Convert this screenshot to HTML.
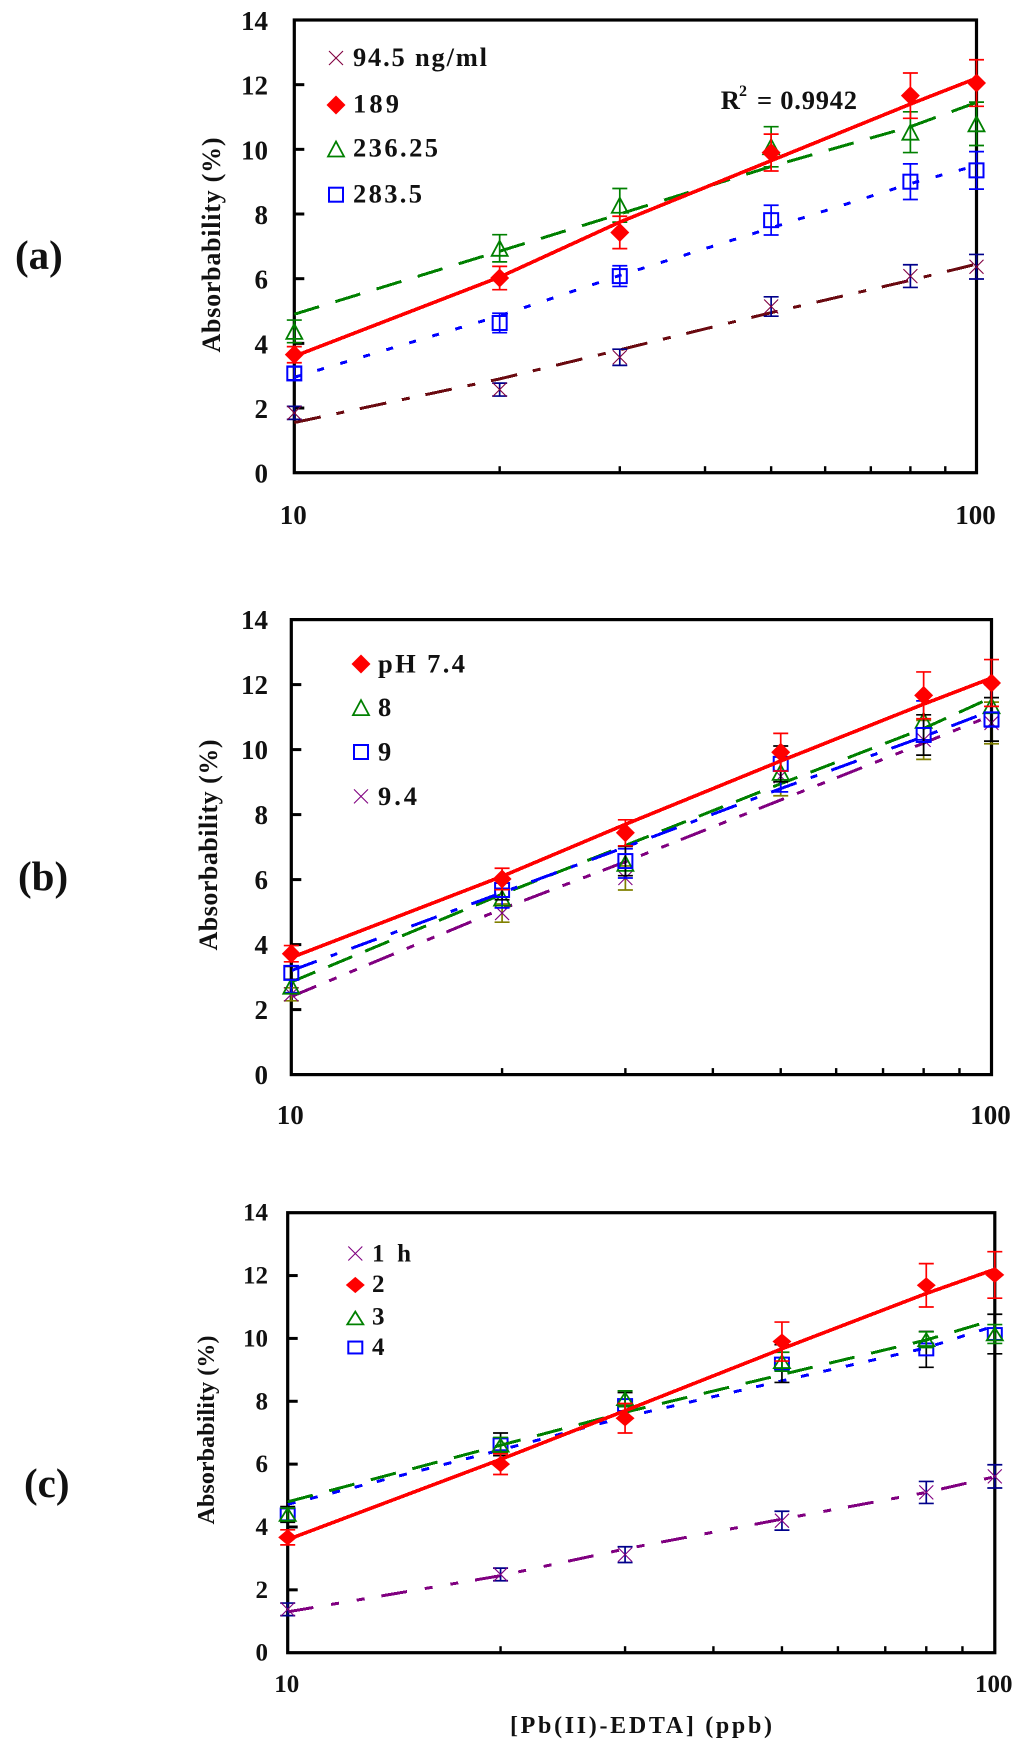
<!DOCTYPE html>
<html lang="en">
<head>
<meta charset="utf-8">
<title>Absorbability vs Pb(II)-EDTA concentration</title>
<style>
  html, body { margin: 0; padding: 0; background: #fff; }
  body { width: 1024px; height: 1751px; overflow: hidden; }
  svg { display: block; filter: blur(0.35px); }
  text { font-family: "Liberation Serif", serif; font-weight: bold; fill: #111; }
</style>
</head>
<body>
<svg id="figure" xmlns="http://www.w3.org/2000/svg" width="1024" height="1751" viewBox="0 0 1024 1751"></svg>
<script>
// ---- shared axis data ----
const categories = [10, 20, 30, 50, 80, 100];
const xTickValues = [20, 30, 40, 50, 60, 70, 80, 90];
const xTickLabels = [10, 100];
const yTickLabels = [0, 2, 4, 6, 8, 10, 12, 14];

// ---- panel (a) ----
const a945Values = [1.85, 2.57, 3.57, 5.14, 6.08, 6.37];
const a945Errors = [0.2, 0.2, 0.25, 0.3, 0.35, 0.38];
const a945Trend = [1.55, 2.9, 3.8, 4.95, 5.95, 6.45];
const a189Values = [3.65, 6.02, 7.43, 9.9, 11.66, 12.05];
const a189Errors = [0.25, 0.36, 0.5, 0.57, 0.7, 0.72];
const a189Trend = [3.6, 6.05, 7.75, 9.65, 11.4, 12.2];
const a236Values = [4.37, 6.94, 8.27, 10.08, 10.53, 10.79];
const a236Errors = [0.35, 0.42, 0.52, 0.62, 0.63, 0.67];
const a236Trend = [4.9, 6.85, 8.0, 9.47, 10.7, 11.45];
const a283Values = [3.07, 4.63, 6.08, 7.81, 9.0, 9.35];
const a283Errors = [0.2, 0.3, 0.32, 0.46, 0.55, 0.58];
const a283Trend = [2.95, 4.85, 6.1, 7.57, 8.94, 9.5];

// ---- panel (b) ----
const b74Values = [3.72, 6.02, 7.44, 9.92, 11.67, 12.05];
const b74Errors = [0.25, 0.33, 0.4, 0.58, 0.72, 0.72];
const b74Trend = [3.6, 6.1, 7.7, 9.65, 11.4, 12.2];
const b8Values = [2.72, 5.43, 6.5, 9.3, 10.9, 11.35];
const b8Errors = [0.2, 0.3, 0.45, 0.6, 0.6, 0.65];
const b8Trend = [2.85, 5.55, 7.05, 8.95, 10.65, 11.6];
const b9Values = [3.13, 5.68, 6.57, 9.56, 10.45, 10.93];
const b9Errors = [0.2, 0.3, 0.45, 0.55, 0.62, 0.67];
const b9Trend = [3.2, 5.6, 7.0, 8.8, 10.4, 11.2];
const b94Values = [2.47, 4.97, 6.05, 9.18, 10.3, 10.82];
const b94Errors = [0.2, 0.28, 0.37, 0.6, 0.6, 0.64];
const b94Trend = [2.4, 5.1, 6.55, 8.45, 10.2, 11.05];

// ---- panel (c) ----
const c1Values = [1.38, 2.49, 3.12, 4.2, 5.1, 5.61];
const c1Errors = [0.2, 0.2, 0.25, 0.3, 0.35, 0.37];
const c1Trend = [1.3, 2.45, 3.3, 4.25, 5.1, 5.6];
const c2Values = [3.67, 6.0, 7.46, 9.9, 11.69, 12.02];
const c2Errors = [0.24, 0.33, 0.47, 0.62, 0.69, 0.74];
const c2Trend = [3.6, 6.15, 7.7, 9.67, 11.43, 12.2];
const c3Values = [4.4, 6.6, 8.08, 9.26, 9.96, 10.14];
const c3Errors = [0.2, 0.25, 0.25, 0.3, 0.25, 0.3];
const c3Trend = [4.8, 6.6, 7.65, 8.85, 9.95, 10.6];
const c4Values = [4.4, 6.63, 7.88, 9.2, 9.65, 10.14];
const c4Errors = [0.25, 0.36, 0.4, 0.6, 0.57, 0.63];
const c4Trend = [4.72, 6.45, 7.5, 8.65, 9.7, 10.4];

const svg = document.getElementById('figure');
const NS = 'http://www.w3.org/2000/svg';

function make(tag, attrs, parent, name, interactable) {
  const el = document.createElementNS(NS, tag);
  for (const k in attrs) el.setAttribute(k, attrs[k]);
  
  
  parent.appendChild(el);
  return el;
}

function addText(parent, name, str, x, y, size, extra) {
  const t = make('text', Object.assign({ x: x, y: y, 'font-size': size }, extra || {}), parent, name, false);
  t.textContent = str;
  return t;
}

function drawMarker(parent, name, kind, cx, cy, color, sc) {
  const sy = sc || 1;
  if (kind === 'diamond') {
    make('polygon', {
      points: [cx - 9.5, cy, cx, cy - 9.5 * sy, cx + 9.5, cy, cx, cy + 9.5 * sy].join(' '),
      fill: '#ff0000', stroke: 'none'
    }, parent, name, false);
  } else if (kind === 'triangle') {
    make('polygon', {
      points: [cx - 8, cy + 7.5 * sy, cx, cy - 7.5 * sy, cx + 8, cy + 7.5 * sy].join(' '),
      fill: 'none', stroke: color, 'stroke-width': 1.8
    }, parent, name, false);
  } else if (kind === 'square') {
    make('rect', {
      x: cx - 7, y: cy - 7 * sy, width: 14, height: 14 * sy,
      fill: 'none', stroke: color, 'stroke-width': 2
    }, parent, name, false);
  } else {
    make('path', {
      d: 'M' + (cx - 7) + ' ' + (cy - 7) + 'L' + (cx + 7) + ' ' + (cy + 7) + 'M' + (cx - 7) + ' ' + (cy + 7) + 'L' + (cx + 7) + ' ' + (cy - 7),
      fill: 'none', stroke: color, 'stroke-width': 1.1
    }, parent, name, false);
  }
}

function drawPanel(p) {
  const g = make('g', {}, svg, 'panel-' + p.id, false);
  const xScale = function (v) { return p.left + (p.right - p.left) * Math.log10(v / 10); };
  const yScale = function (v) { return p.bottom - (p.bottom - p.top) * v / 14; };

  // frame
  make('rect', {
    x: p.left, y: p.top, width: p.right - p.left, height: p.bottom - p.top,
    fill: 'none', stroke: '#000', 'stroke-width': 3.2
  }, g, 'plot-frame-' + p.id, false);

  // y ticks and labels
  yTickLabels.forEach(function (v) {
    if (v > 0 && v < 14) {
      make('line', { x1: p.left, x2: p.left + 10, y1: yScale(v), y2: yScale(v), stroke: '#000', 'stroke-width': 3 }, g, 'y-tick', false);
    }
    addText(g, 'y-tick-label', String(v), 268, yScale(v) + p.yLabelOffset, p.tickFont, { 'text-anchor': 'end' });
  });

  // x ticks and labels
  xTickValues.forEach(function (v) {
    make('line', { x1: xScale(v), x2: xScale(v), y1: p.bottom, y2: p.bottom - 6.5, stroke: '#000', 'stroke-width': 2.4 }, g, 'x-tick', false);
  });
  xTickLabels.forEach(function (v) {
    addText(g, 'x-tick-label', String(v), xScale(v) - 1, p.xLabelY, p.tickFont, { 'text-anchor': 'middle' });
  });

  // y-axis title
  addText(g, 'y-axis-title', 'Absorbability (%)', 0, 0, p.titleFont, {
    transform: 'translate(' + p.titleX + ' ' + p.titleY + ') rotate(-90)',
    'text-anchor': 'middle', textLength: p.titleLen, lengthAdjust: 'spacing'
  });

  // panel label
  addText(g, 'panel-label', p.label, p.labelX, p.labelY, 41, {});

  // series
  p.series.forEach(function (s) {
    const sg = make('g', {}, g, 'series-' + s.slug, false);
    const pts = categories.map(function (c, i) { return xScale(c) + ',' + yScale(s.trend[i]); }).join(' ');
    make('polyline', {
      points: pts, fill: 'none',
      stroke: s.lineColor, 'stroke-width': s.width,
      'stroke-dasharray': s.dash, 'shape-rendering': 'crispEdges'
    }, sg, 'trend-line-' + s.slug, false);
    categories.forEach(function (c, i) {
      const x = xScale(c), v = s.values[i], e = s.errors[i];
      const top = yScale(v + e), bot = yScale(v - e);
      const d = 'M' + x + ' ' + top + 'L' + x + ' ' + bot +
        'M' + (x - 7.5) + ' ' + top + 'L' + (x + 7.5) + ' ' + top +
        'M' + (x - 7.5) + ' ' + bot + 'L' + (x + 7.5) + ' ' + bot;
      make('path', { d: d, fill: 'none', stroke: s.errColor, 'stroke-width': 1.7 }, sg, 'error-bar-' + s.slug, false);
      drawMarker(sg, 'point-' + s.slug, s.marker, x, yScale(v), s.color, p.markerScale);
    });
  });

  // legend
  const lg = make('g', {}, g, 'legend-' + p.id, false);
  p.legend.forEach(function (l) {
    const eg = make('g', {}, lg, 'legend-entry', false);
    drawMarker(eg, 'legend-marker', l.marker, p.legendMarkerX, l.my, l.color, p.markerScale);
    const attrs = {};
    if (l.len) { attrs.textLength = l.len; attrs.lengthAdjust = 'spacing'; }
    addText(eg, 'legend-label', l.text, p.legendTextX, l.base, p.legendFont, attrs);
  });
}

const DASH_LONG = '26 17';
const DASH_DOT = '7 17';
const DASH_CHAIN = '27 16 8 16';
const DASH_CHAIN2 = '27 14 8 14 8 13';
const RED = '#ff0000', GREEN = '#008000', BLUE = '#0000ff', PURPLE = '#800080', MAROON = '#800040', DARKRED = '#6a0a10', NAVY = '#00008b', OLIVE = '#808000', BLACK = '#000000';

drawPanel({
  id: 'a', label: '(a)', labelX: 15, labelY: 269,
  left: 294.3, right: 976.5, top: 20, bottom: 472.7,
  yLabelOffset: 10, xLabelY: 524, tickFont: 27, titleFont: 26, titleLen: 215, titleX: 220, titleY: 245,
  legendMarkerX: 336, legendTextX: 353, legendFont: 26.5, markerScale: 1,
  series: [
    { slug: '94-5-ng-ml', values: a945Values, errors: a945Errors, trend: a945Trend, marker: 'cross', color: MAROON, errColor: NAVY, lineColor: DARKRED, width: 3, dash: DASH_CHAIN },
    { slug: '283-5', values: a283Values, errors: a283Errors, trend: a283Trend, marker: 'square', color: BLUE, errColor: BLUE, lineColor: BLUE, width: 3, dash: DASH_DOT },
    { slug: '236-25', values: a236Values, errors: a236Errors, trend: a236Trend, marker: 'triangle', color: GREEN, errColor: GREEN, lineColor: GREEN, width: 3, dash: DASH_LONG },
    { slug: '189', values: a189Values, errors: a189Errors, trend: a189Trend, marker: 'diamond', color: RED, errColor: RED, lineColor: RED, width: 3.6, dash: 'none' }
  ],
  legend: [
    { text: '94.5 ng/ml', marker: 'cross', color: MAROON, my: 58, base: 66, len: 134 },
    { text: '189', marker: 'diamond', color: RED, my: 105, base: 112.7, len: 46 },
    { text: '236.25', marker: 'triangle', color: GREEN, my: 149, base: 156.7, len: 85 },
    { text: '283.5', marker: 'square', color: BLUE, my: 194.7, base: 202.7, len: 69 }
  ]
});

drawPanel({
  id: 'b', label: '(b)', labelX: 18, labelY: 890,
  left: 291.3, right: 991.5, top: 619.6, bottom: 1074.6,
  yLabelOffset: 9.5, xLabelY: 1124, tickFont: 27, titleFont: 26, titleLen: 211, titleX: 217, titleY: 845,
  legendMarkerX: 361, legendTextX: 378, legendFont: 26.5, markerScale: 1,
  series: [
    { slug: 'ph-9-4', values: b94Values, errors: b94Errors, trend: b94Trend, marker: 'cross', color: PURPLE, errColor: OLIVE, lineColor: PURPLE, width: 3, dash: DASH_CHAIN2 },
    { slug: 'ph-8', values: b8Values, errors: b8Errors, trend: b8Trend, marker: 'triangle', color: GREEN, errColor: BLUE, lineColor: GREEN, width: 3, dash: '26 14' },
    { slug: 'ph-9', values: b9Values, errors: b9Errors, trend: b9Trend, marker: 'square', color: BLUE, errColor: BLACK, lineColor: BLUE, width: 3, dash: '27 15 7 15' },
    { slug: 'ph-7-4', values: b74Values, errors: b74Errors, trend: b74Trend, marker: 'diamond', color: RED, errColor: RED, lineColor: RED, width: 3.6, dash: 'none' }
  ],
  legend: [
    { text: 'pH 7.4', marker: 'diamond', color: RED, my: 664, base: 672.5, len: 87 },
    { text: '8', marker: 'triangle', color: GREEN, my: 707.6, base: 716 },
    { text: '9', marker: 'square', color: BLUE, my: 752, base: 760.5 },
    { text: '9.4', marker: 'cross', color: PURPLE, my: 796.4, base: 805, len: 39 }
  ]
});

drawPanel({
  id: 'c', label: '(c)', labelX: 24, labelY: 1497,
  left: 287.7, right: 994.8, top: 1212.7, bottom: 1652.7,
  yLabelOffset: 8, xLabelY: 1692, tickFont: 25, titleFont: 24, titleLen: 189, titleX: 214, titleY: 1430,
  legendMarkerX: 355.3, legendTextX: 372, legendFont: 25, markerScale: 0.85,
  series: [
    { slug: '1-h', values: c1Values, errors: c1Errors, trend: c1Trend, marker: 'cross', color: PURPLE, errColor: NAVY, lineColor: PURPLE, width: 3, dash: '26 18 8 18 8 17' },
    { slug: '4-h', values: c4Values, errors: c4Errors, trend: c4Trend, marker: 'square', color: BLUE, errColor: BLACK, lineColor: BLUE, width: 3, dash: '8 15' },
    { slug: '3-h', values: c3Values, errors: c3Errors, trend: c3Trend, marker: 'triangle', color: GREEN, errColor: GREEN, lineColor: GREEN, width: 3, dash: DASH_LONG },
    { slug: '2-h', values: c2Values, errors: c2Errors, trend: c2Trend, marker: 'diamond', color: RED, errColor: RED, lineColor: RED, width: 3.6, dash: 'none' }
  ],
  legend: [
    { text: '1 h', marker: 'cross', color: PURPLE, my: 1253.5, base: 1261.6, len: 39 },
    { text: '2', marker: 'diamond', color: RED, my: 1285, base: 1292 },
    { text: '3', marker: 'triangle', color: GREEN, my: 1318, base: 1324.5 },
    { text: '4', marker: 'square', color: BLUE, my: 1347.5, base: 1355 }
  ]
});

// annotations
addText(svg, 'r-squared-r', 'R', 720.7, 109, 26.5, {});
addText(svg, 'r-squared-exponent', '2', 739, 96, 16, {});
addText(svg, 'r-squared-value', '= 0.9942', 757, 109, 26.5, { textLength: 100, lengthAdjust: 'spacing' });
addText(svg, 'x-axis-title', '[Pb(II)-EDTA] (ppb)', 510, 1733, 24, { textLength: 262, lengthAdjust: 'spacing' });
</script>
</body>
</html>
